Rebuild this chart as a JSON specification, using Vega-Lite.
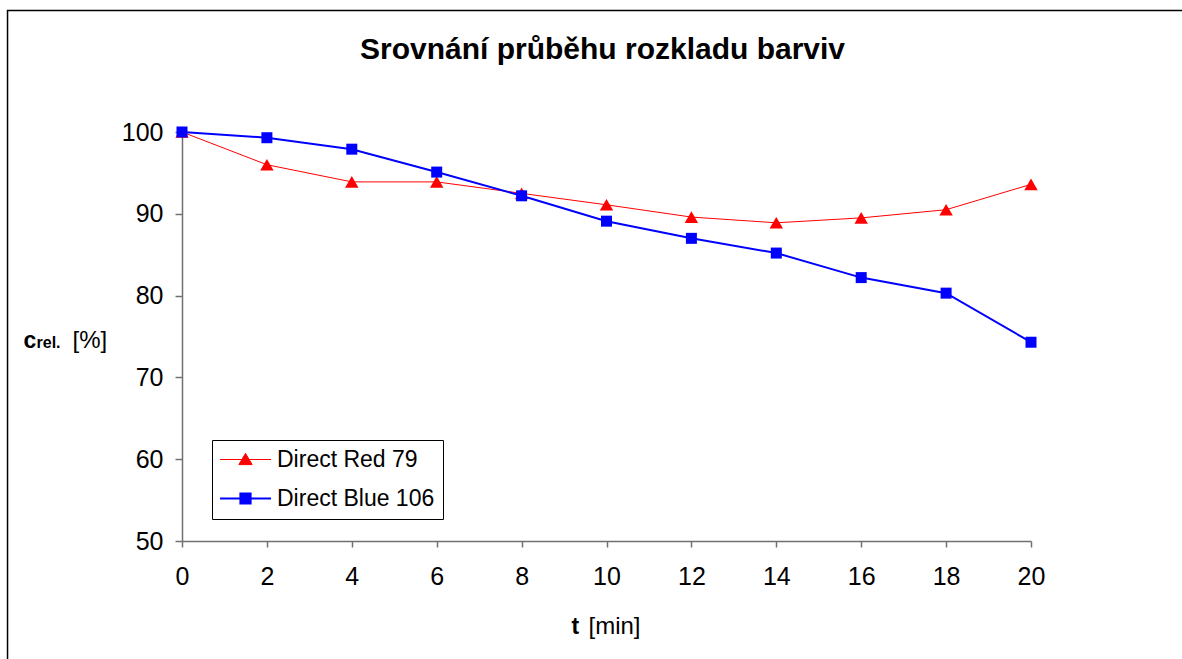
{
  "$schema": "https://vega.github.io/schema/vega-lite/v6.json",
  "autosize": "none",
  "width": 849,
  "height": 409,
  "padding": {"left": 182, "top": 132, "right": 151, "bottom": 118},
  "background": "white",
  "title": {
    "text": "Srovnání průběhu rozkladu barviv",
    "font": "Liberation Sans",
    "fontSize": 30,
    "fontWeight": "bold",
    "color": "black",
    "anchor": "middle",
    "frame": "group",
    "baseline": "alphabetic",
    "offset": 0,
    "dx": -4,
    "dy": 79
  },
  "datasets": {
    "decay": [
      {"t": 0, "dye": "Direct Red 79", "c": 100},
      {"t": 2, "dye": "Direct Red 79", "c": 96.0},
      {"t": 4, "dye": "Direct Red 79", "c": 93.9},
      {"t": 6, "dye": "Direct Red 79", "c": 93.9},
      {"t": 8, "dye": "Direct Red 79", "c": 92.5},
      {"t": 10, "dye": "Direct Red 79", "c": 91.1},
      {"t": 12, "dye": "Direct Red 79", "c": 89.6},
      {"t": 14, "dye": "Direct Red 79", "c": 88.9},
      {"t": 16, "dye": "Direct Red 79", "c": 89.5},
      {"t": 18, "dye": "Direct Red 79", "c": 90.5},
      {"t": 20, "dye": "Direct Red 79", "c": 93.6},
      {"t": 0, "dye": "Direct Blue 106", "c": 100},
      {"t": 2, "dye": "Direct Blue 106", "c": 99.3},
      {"t": 4, "dye": "Direct Blue 106", "c": 97.9},
      {"t": 6, "dye": "Direct Blue 106", "c": 95.1},
      {"t": 8, "dye": "Direct Blue 106", "c": 92.2},
      {"t": 10, "dye": "Direct Blue 106", "c": 89.1},
      {"t": 12, "dye": "Direct Blue 106", "c": 87.0},
      {"t": 14, "dye": "Direct Blue 106", "c": 85.2},
      {"t": 16, "dye": "Direct Blue 106", "c": 82.2},
      {"t": 18, "dye": "Direct Blue 106", "c": 80.3},
      {"t": 20, "dye": "Direct Blue 106", "c": 74.3}
    ]
  },
  "data": {"name": "decay"},
  "resolve": {"axis": {"x": "independent", "y": "independent"}},
  "layer": [
    {
      "data": {"values": [{}]},
      "mark": {"type": "rect", "filled": false, "stroke": "black", "strokeWidth": 1.5, "clip": false},
      "encoding": {
        "x": {
          "datum": -4.11, "type": "quantitative",
          "scale": {"domain": [0, 20], "nice": false, "zero": false},
          "axis": {
            "orient": "bottom", "domain": false, "ticks": false, "labels": false, "grid": false,
            "title": "[min]", "titleFont": "Liberation Sans", "titleFontSize": 24, "titleFontWeight": "normal",
            "titleColor": "black", "titleX": 406, "titleY": 92, "titleAlign": "left", "titleBaseline": "alphabetic"
          }
        },
        "x2": {"datum": 24},
        "y": {
          "datum": 114.85, "type": "quantitative",
          "scale": {"domain": [50, 100], "nice": false, "zero": false},
          "axis": {
            "orient": "left", "domain": false, "ticks": false, "labels": false, "grid": false,
            "title": "[%]", "titleFont": "Liberation Sans", "titleFontSize": 24, "titleFontWeight": "normal",
            "titleColor": "black", "titleAngle": 0, "titleX": -110, "titleY": 215, "titleAlign": "left", "titleBaseline": "alphabetic"
          }
        },
        "y2": {"datum": 30}
      }
    },
    {
      "transform": [{"filter": "datum.dye === 'Direct Red 79'"}],
      "mark": {"type": "line", "strokeWidth": 1},
      "encoding": {
        "x": {
          "field": "t", "type": "quantitative",
          "scale": {"domain": [0, 20], "nice": false, "zero": false},
          "axis": {
            "orient": "bottom", "values": [0, 2, 4, 6, 8, 10, 12, 14, 16, 18, 20], "grid": false,
            "domainColor": "#707070", "domainWidth": 1.5, "tickColor": "#707070", "tickWidth": 1.5, "tickSize": 6,
            "labelFont": "Liberation Sans", "labelFontSize": 25, "labelColor": "black", "labelPadding": 17, "labelFlush": false,
            "title": "t", "titleFont": "Liberation Sans", "titleFontSize": 23, "titleFontWeight": "bold",
            "titleColor": "black", "titleX": 389, "titleY": 92, "titleAlign": "left", "titleBaseline": "alphabetic"
          }
        },
        "y": {
          "field": "c", "type": "quantitative",
          "scale": {"domain": [50, 100], "nice": false, "zero": false},
          "axis": {
            "orient": "left", "values": [50, 60, 70, 80, 90, 100], "grid": false,
            "domainColor": "#707070", "domainWidth": 1.5, "tickColor": "#707070", "tickWidth": 1.5, "tickSize": 7,
            "labelFont": "Liberation Sans", "labelFontSize": 25, "labelColor": "black", "labelPadding": 12, "labelFlush": false,
            "title": "c", "titleFont": "Liberation Sans", "titleFontSize": 23, "titleFontWeight": "bold",
            "titleColor": "black", "titleAngle": 0, "titleX": -159, "titleY": 215, "titleAlign": "left", "titleBaseline": "alphabetic"
          }
        },
        "color": {
          "field": "dye", "type": "nominal",
          "scale": {"domain": ["Direct Red 79", "Direct Blue 106"], "range": ["#ff0000", "#0000ff"]},
          "legend": {
            "title": null,
            "orient": "none",
            "legendX": 30,
            "legendY": 308,
            "padding": 8,
            "strokeColor": "black",
            "fillColor": "white",
            "symbolSize": 2601,
            "rowPadding": 15,
            "labelFont": "Liberation Sans",
            "labelFontSize": 23,
            "labelColor": "black",
            "labelLimit": 400,
            "encode": {
              "symbols": {
                "update": {
                  "x": {"value": 25.5},
                  "shape": {"signal": "datum.value === 'Direct Red 79' ? 'M-1,0H1M0,-0.24L0.26,0.2L-0.26,0.2Z' : 'M-1,0H1M-0.2,-0.2H0.2V0.2H-0.2Z'"},
                  "fill": {"signal": "datum.value === 'Direct Red 79' ? '#ff0000' : '#0000ff'"},
                  "stroke": {"signal": "datum.value === 'Direct Red 79' ? '#ff0000' : '#0000ff'"},
                  "strokeWidth": {"signal": "datum.value === 'Direct Red 79' ? 1 : 2"}
                }
              },
              "labels": {
                "update": {
                  "x": {"value": 57}
                }
              }
            }
          }
        }
      }
    },
    {
      "transform": [{"filter": "datum.dye === 'Direct Red 79'"}],
      "mark": {"type": "point", "shape": "triangle-up", "size": 180, "filled": true, "fill": "#ff0000", "opacity": 1, "strokeWidth": 0},
      "encoding": {
        "x": {"field": "t", "type": "quantitative", "scale": {"domain": [0, 20], "nice": false, "zero": false}, "axis": null},
        "y": {
          "field": "c", "type": "quantitative",
          "scale": {"domain": [50, 100], "nice": false, "zero": false},
          "axis": {
            "orient": "left", "domain": false, "ticks": false, "labels": false, "grid": false,
            "title": "rel.", "titleFont": "Liberation Sans", "titleFontSize": 16, "titleFontWeight": "bold",
            "titleColor": "black", "titleAngle": 0, "titleX": -146, "titleY": 215, "titleAlign": "left", "titleBaseline": "alphabetic"
          }
        }
      }
    },
    {
      "transform": [{"filter": "datum.dye === 'Direct Blue 106'"}],
      "mark": {"type": "line", "strokeWidth": 2},
      "encoding": {
        "x": {"field": "t", "type": "quantitative", "scale": {"domain": [0, 20], "nice": false, "zero": false}, "axis": null},
        "y": {"field": "c", "type": "quantitative", "scale": {"domain": [50, 100], "nice": false, "zero": false}, "axis": null},
        "color": {"field": "dye", "type": "nominal"}
      }
    },
    {
      "transform": [{"filter": "datum.dye === 'Direct Blue 106'"}],
      "mark": {"type": "point", "shape": "square", "size": 121, "filled": true, "fill": "#0000ff", "opacity": 1, "strokeWidth": 0},
      "encoding": {
        "x": {"field": "t", "type": "quantitative", "scale": {"domain": [0, 20], "nice": false, "zero": false}, "axis": null},
        "y": {"field": "c", "type": "quantitative", "scale": {"domain": [50, 100], "nice": false, "zero": false}, "axis": null}
      }
    }
  ],
  "config": {
    "view": {"stroke": null},
    "font": "Liberation Sans",
    "legend": {"strokeWidth": 1}
  }
}
